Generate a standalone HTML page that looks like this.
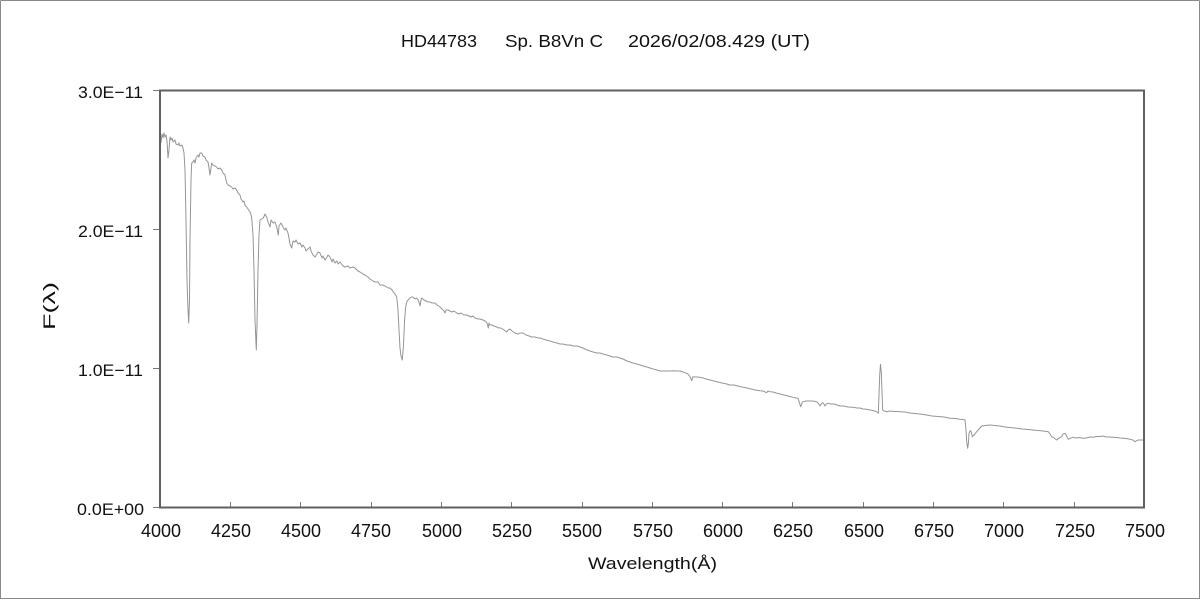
<!DOCTYPE html>
<html><head><meta charset="utf-8"><style>
html,body{margin:0;padding:0;background:#fff;}
svg{display:block;}
text{font-family:"Liberation Sans","Noto Sans CJK JP",sans-serif;fill:#111;}
</style></head><body>
<svg width="1200" height="600" viewBox="0 0 1200 600" xmlns="http://www.w3.org/2000/svg">
<rect x="0" y="0" width="1200" height="600" fill="#fff"/>
<path d="M0.5 0.5H1199.5M0.5 0.5V598.5H1199.5V0.5" fill="none" stroke="#8a8a8a" stroke-width="1"/>
<g font-size="17.5">
<text x="401" y="47" textLength="76" lengthAdjust="spacingAndGlyphs">HD44783</text>
<text x="505" y="47" textLength="98" lengthAdjust="spacingAndGlyphs">Sp. B8Vn C</text>
<text x="628" y="47" textLength="182" lengthAdjust="spacingAndGlyphs">2026/02/08.429 (UT)</text>
</g>
<!-- ticks -->
<g stroke="#777" stroke-width="1">
<line x1="153" y1="229.5" x2="160" y2="229.5"/>
<line x1="153" y1="368.5" x2="160" y2="368.5"/>
<line x1="153" y1="90.5" x2="160" y2="90.5"/>
<line x1="153" y1="507.5" x2="160" y2="507.5"/>
<line x1="230.5" y1="502" x2="230.5" y2="508"/>
<line x1="300.5" y1="502" x2="300.5" y2="508"/>
<line x1="371.5" y1="502" x2="371.5" y2="508"/>
<line x1="441.5" y1="502" x2="441.5" y2="508"/>
<line x1="511.5" y1="502" x2="511.5" y2="508"/>
<line x1="582.5" y1="502" x2="582.5" y2="508"/>
<line x1="652.5" y1="502" x2="652.5" y2="508"/>
<line x1="722.5" y1="502" x2="722.5" y2="508"/>
<line x1="792.5" y1="502" x2="792.5" y2="508"/>
<line x1="863.5" y1="502" x2="863.5" y2="508"/>
<line x1="933.5" y1="502" x2="933.5" y2="508"/>
<line x1="1003.5" y1="502" x2="1003.5" y2="508"/>
<line x1="1074.5" y1="502" x2="1074.5" y2="508"/>
</g>
<!-- spectrum -->
<polyline fill="none" stroke="#959595" stroke-width="1" stroke-linejoin="round" points="
161,143 162,134 163,138 164,133 165,137 166,135 167,141 168,158 169,150 170,137 171,140 172,138 173,142 175,140 176,144 178,145 179,143 180,146 182,145 183,148 184,153 185,170 186,220 187,280 188,310 188.7,323 189.5,300 190,240 191,180 191.7,163 193,162 194,160 195,163 196,158 198,155 199,157 200,153 201.7,153 203,156 205,157 206,160 208,162 209,168 210,175 211,168 211.7,163 213,165 215,166 216.7,167 218,169 220,168 221.7,170 223,173 225,175 226,180 226.7,183 228,185 230,186 231.7,187 233,189 235,188 236.7,190 238,193 240,195 241,199 243,202 244,201 245,205 246.7,207 248,209 250,212 251,215 251.7,218 253,235 254,270 255,320 256.3,350 257,325 258,270 259,235 260,220 261.5,219 263.3,218 265,214 266.7,217 268,222 270,227 271,220 273,223 275,222 276.7,227 278.3,235 279,226 281,223 283,227 285,230 286,228 288,233 289,238 290,244 291.7,248 293,241 295,242 296,240 298,244 300,243 302,247 303,245 305,248 306,251 308,249 310,247 311,251 313,255 315,257 317,254 318,252 320,253 322,258 323,256 325,260 327,257 328,255 330,257 332,262 333,259 335,263 337,261 338,264 340,262 343,266 345,267 348,266 350,268 353,267 355,268 358,271 360,272 363,274 365,275 368,277 370,279 373,281 375,282 378,282 380,285 383,285 385,286 388,288 390,288 392,290 393.3,292 395,294 396.7,297 398,310 399,330 400,348 401,356 402.3,360 403.5,345 404.5,322 405.5,308 406.7,302 408,300 410,298 411.7,297 413,297 415,299 416.7,298 418,300 419,302 420,306 420.8,301 421.7,298 424,300 426,301 428,302 430,302 432,303 435,303 437,305 440,307 442,309 444,311 445,313 446,310 448,310 450,311 452,312 454,311 456.7,313 459,314 461,313 464,315 466.7,315 469,316 471,317 473,316 475,318 478,319 480,319 483,320 485,321 487,323 488.3,328 489,323 490,325 492,325 494,326 496.7,327 499,328 501,328 504,330 506.7,332 508,330 510,329 512,331 515,333 518.3,334 520,333 523,333 526,335 529,336 531.7,337 535,337 538,338 540,338 543,339 546,340 550,341 553,342 557,343 560,344 563,344 566.7,345 570,345 573,346 577,346 580,347 583,348 587,350 590,351 593,352 597,353 600,353 603,354 606.7,355 610,356 613,357 617,357 620,358 623,359 627,361 630,362 633,363 637,364 640,365 643,366 646.7,367 650,368 653,369 657,370 660,371 663,371 666.7,371 670,371 673,370.7 676,371 680,371 683,372 685,372.7 688,374 690,376.7 691.7,380.7 693,376.7 695,377 697,377 700,377.3 703,378 706,379 710,380 714,381 718,382 722,383 726.7,384 730,385 734,385 738,386 743,387.3 747,388 751,389 755,390 760,390.7 763,391 766.7,392.7 768,391 770,391.7 773,392 776,393 780,394 784,395 788,396 793,397.3 796,398 798,398.3 799.5,403 800.7,406.7 802,403 803,401.7 806,401 810,401 813,401 816.7,401.7 818,403 820,406 821,404 822.7,402.7 824,404 825,406 826.5,404 828,403.3 831,404 834,404 837,405 840,406 844,406 848,407 853,407.3 857,408 860,408 863,409 866.7,409.3 870,410 873,410.5 876.7,411.7 878.3,413.3 879,395 879.7,375 880.5,364.3 881.3,372 882,392 882.7,410 884,411 886.7,411.7 890,411 894,411.5 897,411.5 900,411.7 905,412 910,413 915,413.5 920,414 926.7,415 932,416 938,416.5 944,417 950,418.3 955,418.5 960,419.3 963,419.5 965,420 966,430 966.7,441.7 967.7,448.3 968.5,442 969,433.3 970,431 970.7,430.7 971.5,433 972.3,436.7 974,435 976.7,431.7 979,429 981.7,426 985,425.5 990,425 995,425.5 1000,426 1005,427 1010,427.5 1016.7,428.3 1022,429 1028,429.5 1033,430 1038,430.5 1043,431 1048.3,431.7 1050,434 1051.7,436.7 1054,438 1056.7,440 1059,438 1061.7,436.7 1063,434 1065,433.3 1066.5,436 1068.3,439.3 1071,438 1073,437.3 1076,438 1079,437.5 1083,438.3 1086,438 1090,437 1093,437.3 1097,436.5 1100,436.5 1103,436 1106,437 1110,437 1113,437.3 1117,437.5 1120,438 1123,438.3 1126,438.5 1130,439.3 1133,440 1135,441.7 1137,440.5 1138.3,440 1141,440 1144,440"/>
<!-- frame -->
<rect x="160" y="90.5" width="984" height="417" fill="none" stroke="#606060" stroke-width="2"/>
<!-- y labels -->
<g font-size="17">
<text x="78" y="98" textLength="65" lengthAdjust="spacingAndGlyphs">3.0E−11</text>
<text x="78" y="237" textLength="65" lengthAdjust="spacingAndGlyphs">2.0E−11</text>
<text x="78" y="376" textLength="65" lengthAdjust="spacingAndGlyphs">1.0E−11</text>
<text x="77" y="515" textLength="67" lengthAdjust="spacingAndGlyphs">0.0E+00</text>
</g>
<!-- x labels -->
<g font-size="18">
<text x="141" y="537" textLength="40" lengthAdjust="spacingAndGlyphs">4000</text>
<text x="211" y="537" textLength="40" lengthAdjust="spacingAndGlyphs">4250</text>
<text x="281" y="537" textLength="40" lengthAdjust="spacingAndGlyphs">4500</text>
<text x="351" y="537" textLength="40" lengthAdjust="spacingAndGlyphs">4750</text>
<text x="422" y="537" textLength="40" lengthAdjust="spacingAndGlyphs">5000</text>
<text x="492" y="537" textLength="40" lengthAdjust="spacingAndGlyphs">5250</text>
<text x="562" y="537" textLength="40" lengthAdjust="spacingAndGlyphs">5500</text>
<text x="633" y="537" textLength="40" lengthAdjust="spacingAndGlyphs">5750</text>
<text x="703" y="537" textLength="40" lengthAdjust="spacingAndGlyphs">6000</text>
<text x="773" y="537" textLength="40" lengthAdjust="spacingAndGlyphs">6250</text>
<text x="844" y="537" textLength="40" lengthAdjust="spacingAndGlyphs">6500</text>
<text x="914" y="537" textLength="40" lengthAdjust="spacingAndGlyphs">6750</text>
<text x="984" y="537" textLength="40" lengthAdjust="spacingAndGlyphs">7000</text>
<text x="1055" y="537" textLength="40" lengthAdjust="spacingAndGlyphs">7250</text>
<text x="1125" y="537" textLength="40" lengthAdjust="spacingAndGlyphs">7500</text>
</g>
<text x="588" y="569" font-size="17" textLength="129" lengthAdjust="spacingAndGlyphs">Wavelength(Å)</text>
<text transform="translate(55,330) rotate(-90)" font-size="17" textLength="48" lengthAdjust="spacingAndGlyphs">F(λ)</text>
</svg>
</body></html>
